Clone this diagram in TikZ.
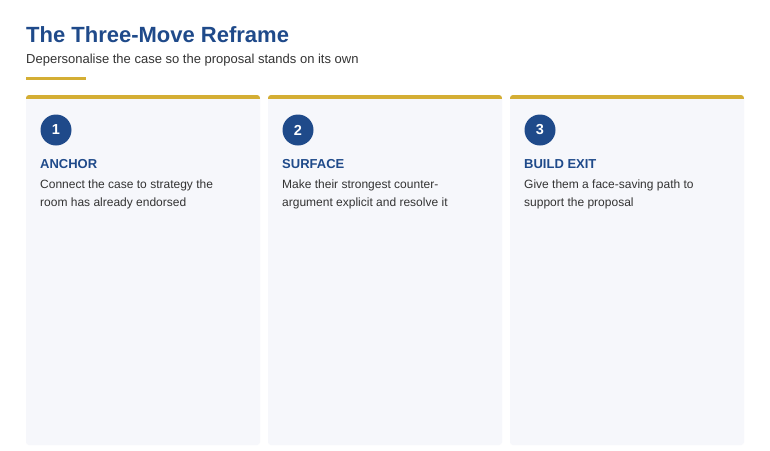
\documentclass[tikz,border=0pt]{standalone}
\usepackage{fontspec}
\setmainfont{Liberation Sans}
\definecolor{navy}{HTML}{1F4A8A}
\definecolor{gold}{HTML}{D4AE34}
\definecolor{cardbg}{HTML}{F6F7FB}
\definecolor{ink}{HTML}{333333}
\begin{document}
\begin{tikzpicture}[x=1pt,y=-1pt,
  card/.style={fill=cardbg,rounded corners=3pt},
  badge/.style={circle,fill=navy,minimum size=31pt,inner sep=0pt,text=white,font=\fontsize{14.5}{16}\selectfont\bfseries},
  heading/.style={anchor=base west,inner sep=0pt,text=navy,font=\fontsize{13}{15}\selectfont\bfseries},
  body/.style={anchor=north west,inner sep=0pt,text=ink,align=left,font=\fontsize{12}{18}\selectfont}]

\useasboundingbox[fill=white] (0,0) rectangle (770,450);

\node[anchor=base west,inner sep=0pt,text=navy,font=\fontsize{22}{26}\selectfont\bfseries] (title) at (26,42) {The Three-Move Reframe};
\node[anchor=base west,inner sep=0pt,text=ink,font=\fontsize{13}{15}\selectfont] (subtitle) at (26,63) {Depersonalise the case so the proposal stands on its own};
\draw[gold,line width=3pt] (26,78.5) -- (86,78.5);

% cards
\foreach \x/\n/\head/\txt in {
  26/1/ANCHOR/{Connect the case to strategy the\\room has already endorsed},
  268/2/SURFACE/{Make their strongest counter-\\argument explicit and resolve it},
  510/3/BUILD EXIT/{Give them a face-saving path to\\support the proposal}}{
  \fill[card] (\x,95) rectangle ++(234,350);
  \begin{scope}
    \clip[rounded corners=3pt] (\x,95) rectangle ++(234,20);
    \fill[gold] (\x,95) rectangle ++(234,3.5);
  \end{scope}
  \node[badge] (badge\n) at (\x+30,130) {\n};
  \node[heading] (head\n) at (\x+14,168) {\head};
  \node[body] (text\n) at (\x+14,180) {\txt};
}
\end{tikzpicture}
\end{document}
